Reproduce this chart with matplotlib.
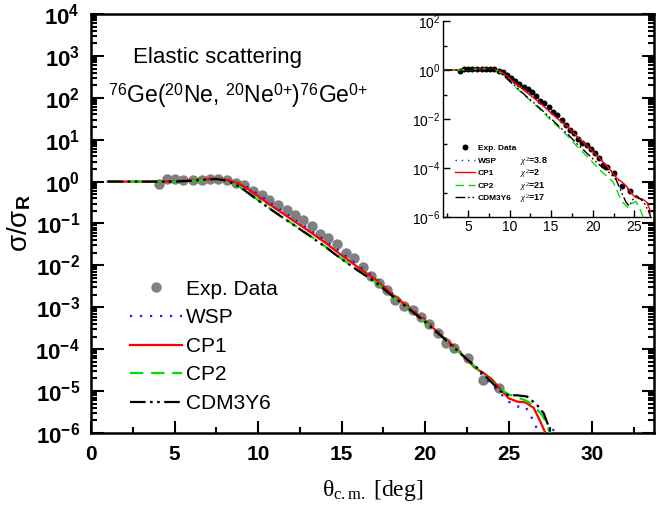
import numpy as np
import matplotlib
matplotlib.use("Agg")
import matplotlib.pyplot as plt
from matplotlib.ticker import LogLocator, FixedLocator, NullFormatter, MultipleLocator

# ---- experimental data (theta c.m. in deg, sigma/sigma_R) ----
theta_exp = [4.09, 4.53, 5.03, 5.53, 6.09, 6.63, 7.13, 7.62, 8.12, 8.68, 9.18, 9.72,
             10.22, 10.68, 11.17, 11.71, 12.22, 12.71, 13.21, 13.71, 14.17, 14.71,
             15.25, 15.75, 16.27, 16.77, 17.25, 17.69, 18.19, 18.74, 19.26, 19.76,
             20.26, 20.75, 21.26, 21.75, 22.55, 23.49, 24.45]
sig_exp = [0.87, 1.15, 1.15, 1.10, 1.10, 1.10, 1.15, 1.15, 1.10, 0.91, 0.83, 0.60,
           0.47, 0.36, 0.275, 0.21, 0.162, 0.123, 0.087, 0.056, 0.046, 0.032,
           0.020, 0.0148, 0.0091, 0.0056, 0.0037, 0.0026, 0.0015, 0.00107, 0.00087, 0.00058,
           0.00040, 0.00025, 1.38e-4, 1.05e-4, 6.2e-5, 1.8e-5, 1.2e-5]

# ---- model curves, main panel (log10 of sigma/sigma_R) ----
th_wsp = [1, 4, 5, 6, 7, 7.5, 8, 8.5, 9, 9.5, 10, 11, 12, 13, 14, 15, 16, 17, 18, 19, 20,
          21, 22, 22.5, 23, 23.5, 24, 24.5, 25, 25.5, 26, 26.3, 26.6, 26.8, 27.0, 27.4, 27.7, 28]
lg_wsp = [0, 0, 0.01, 0.03, 0.06, 0.07, 0.05, 0.01, -0.06, -0.16, -0.3, -0.58, -0.85, -1.12,
          -1.4, -1.7, -2.0, -2.3, -2.66, -2.98, -3.3, -3.66, -4.02, -4.24, -4.45, -4.65, -4.85,
          -5.05, -5.25, -5.37, -5.37, -5.57, -5.81, -6.0, -6.3, -6.2, -5.9, -6.3]

th_cp1 = [1, 4, 5, 6, 7, 7.5, 8, 8.5, 9, 9.5, 10, 11, 12, 13, 14, 15, 16, 17, 18, 19, 20,
          21, 22, 22.5, 23, 23.5, 24, 24.5, 25, 25.5, 26, 26.5, 26.9, 27.2, 27.4]
lg_cp1 = [0, 0, 0.01, 0.03, 0.06, 0.07, 0.05, 0.0, -0.08, -0.2, -0.35, -0.63, -0.9, -1.17,
          -1.45, -1.76, -2.05, -2.33, -2.68, -3.0, -3.32, -3.68, -4.04, -4.25, -4.45, -4.57,
          -4.72, -4.95, -5.17, -5.25, -5.27, -5.4, -5.73, -6.0, -6.3]

th_cp2 = [1, 4, 5, 6, 7, 7.5, 8, 8.5, 9, 9.5, 10, 11, 12, 13, 14, 15, 16, 17, 18, 19, 20,
          21, 22, 22.5, 23, 23.5, 24, 24.5, 25, 25.5, 26, 26.3, 26.9, 27.3, 27.5]
lg_cp2 = [0, 0, 0.0, 0.02, 0.05, 0.06, 0.03, -0.04, -0.15, -0.29, -0.44, -0.72, -0.99, -1.26,
          -1.54, -1.84, -2.12, -2.38, -2.72, -3.03, -3.35, -3.7, -4.06, -4.25, -4.42, -4.6,
          -4.78, -4.95, -5.08, -5.15, -5.22, -5.29, -5.52, -5.77, -6.05]

th_cdm = [1, 4, 5, 6, 7, 7.5, 8, 8.5, 9, 9.5, 10, 11, 12, 13, 14, 15, 16, 17, 18, 19, 20,
          21, 22, 22.5, 23, 23.5, 24, 24.5, 25, 25.5, 26.1, 26.7, 27.1, 27.4, 27.6]
lg_cdm = [0, 0, 0.0, 0.02, 0.05, 0.06, 0.03, -0.04, -0.15, -0.3, -0.45, -0.73, -1.0, -1.27,
          -1.55, -1.85, -2.13, -2.39, -2.72, -3.03, -3.35, -3.7, -4.06, -4.24, -4.4, -4.6,
          -4.8, -5.0, -5.1, -5.1, -5.13, -5.33, -5.53, -5.85, -6.1]

# ---- model curves, inset ----
th_in_wsp = [2, 4, 5, 6, 7, 7.5, 8, 8.5, 9, 9.5, 10, 11, 12, 13, 14, 15, 16, 17, 18, 19, 20,
             21, 22, 22.5, 23, 23.5, 24, 25, 25.8, 26.8, 27.2]
lg_in_wsp = [0, 0, 0.01, 0.03, 0.06, 0.07, 0.05, 0.01, -0.06, -0.16, -0.3, -0.58, -0.85, -1.12,
             -1.4, -1.7, -2.0, -2.3, -2.66, -2.98, -3.3, -3.66, -4.02, -4.24, -4.45, -4.65,
             -4.82, -5.1, -5.23, -5.5, -5.7]

th_in_cp2 = [2, 4, 6, 7, 7.5, 8, 8.5, 9, 10, 11, 12, 13, 14, 15, 16, 17, 18, 19, 20, 21, 22,
             22.5, 23.2, 23.6, 24.2, 24.7, 25.2, 25.8, 26.2]
lg_in_cp2 = [0, 0, 0.03, 0.05, 0.06, 0.03, -0.04, -0.13, -0.47, -0.79, -1.1, -1.4, -1.72, -2.06,
             -2.37, -2.7, -3.08, -3.42, -3.77, -4.13, -4.42, -4.6, -5.15, -5.4, -5.6, -5.45,
             -5.36, -5.77, -6.15]

th_in_cdm = [2, 4, 6, 7, 7.5, 8, 8.5, 9, 10, 11, 12, 13, 14, 15, 16, 17, 18, 19, 20, 21, 22,
             22.8, 23.4, 24.0, 24.4, 24.8, 25.2, 25.7, 26.2, 26.8, 27.1]
lg_in_cdm = [0, 0, 0.03, 0.05, 0.06, 0.03, -0.04, -0.13, -0.45, -0.76, -1.07, -1.36, -1.67,
             -1.99, -2.32, -2.62, -2.98, -3.3, -3.62, -3.93, -4.19, -4.47, -4.95, -5.4, -5.55,
             -5.3, -5.13, -5.25, -5.43, -5.84, -6.1]

model_names = ["WSP", "CP1", "CP2", "CDM3Y6"]
chi2_values = ["3.8", "2", "21", "17"]

main_yticks = [1e4, 1e3, 1e2, 1e1, 1e0, 1e-1, 1e-2, 1e-3, 1e-4, 1e-5, 1e-6]
main_ylabels = [r"$\mathbf{10^{4}}$", r"$\mathbf{10^{3}}$", r"$\mathbf{10^{2}}$",
                r"$\mathbf{10^{1}}$", r"$\mathbf{10^{0}}$", r"$\mathbf{10^{-1}}$",
                r"$\mathbf{10^{-2}}$", r"$\mathbf{10^{-3}}$", r"$\mathbf{10^{-4}}$",
                r"$\mathbf{10^{-5}}$", r"$\mathbf{10^{-6}}$"]
main_xticks = [0, 5, 10, 15, 20, 25, 30]
inset_yticks = [1e2, 1e0, 1e-2, 1e-4, 1e-6]
inset_ylabels = [r"$\mathsf{10^{2}}$", r"$\mathsf{10^{0}}$", r"$\mathsf{10^{-2}}$",
                 r"$\mathsf{10^{-4}}$", r"$\mathsf{10^{-6}}$"]
inset_xticks = [5, 10, 15, 20, 25]

plt.rcParams['font.family'] = ['Liberation Sans', 'DejaVu Sans']
plt.rcParams['mathtext.fontset'] = 'custom'
plt.rcParams['mathtext.rm'] = 'Liberation Serif'
plt.rcParams['mathtext.it'] = 'Liberation Serif:italic'
plt.rcParams['mathtext.sf'] = 'Liberation Sans'
plt.rcParams['mathtext.bf'] = 'Liberation Sans:bold'

# line styles for the four models
styles = {
    "WSP": dict(color='#1a1aff', linestyle=(0, (1, 3.5))),
    "CP1": dict(color='#ff0000', linestyle='-'),
    "CP2": dict(color='#00e000', linestyle=(0, (6, 3.5))),
    "CDM3Y6": dict(color='black', linestyle=(0, (7, 2, 1.2, 2, 1.2, 2))),
}

fig = plt.figure(figsize=(6.56, 5.18), dpi=100)
ax = fig.add_axes([91 / 656, 85 / 518, 563 / 656, 419 / 518])

ax.plot(theta_exp, sig_exp, 'o', color='#808080', markersize=7.5, markeredgewidth=0,
        label="Exp. Data", zorder=2)
curves = [(th_wsp, lg_wsp), (th_cp1, lg_cp1), (th_cp2, lg_cp2), (th_cdm, lg_cdm)]
for name, (th, lg) in zip(model_names, curves):
    ax.plot(th, 10.0 ** np.array(lg), lw=1.6, label=name, zorder=3, **styles[name])

ax.set_yscale('log')
ax.set_xlim(0, 33.7)
ax.set_ylim(1e-6, 1e4)
ax.set_yticks(main_yticks, main_ylabels, fontsize=16)
ax.yaxis.set_minor_locator(LogLocator(base=10, subs=np.arange(2, 10), numticks=100))
ax.yaxis.set_minor_formatter(NullFormatter())
ax.set_xticks(main_xticks, [str(t) for t in main_xticks], fontsize=15, fontweight='bold')
ax.xaxis.set_minor_locator(MultipleLocator(2.5))
ax.tick_params(which='both', direction='in', right=True, width=1.5)
ax.tick_params(which='major', length=9)
ax.tick_params(which='minor', length=4.5)
ax.tick_params(axis='x', pad=9)
ax.tick_params(axis='y', pad=8)
for sp in ax.spines.values():
    sp.set_linewidth(1.8)

ax.set_ylabel("σ/σ$_\\mathbf{R}$", fontsize=20)
ax.yaxis.set_label_coords(-0.103, 0.5)
ax.set_xlabel("θ$_{\\rm c.m.}$ [deg]", fontsize=17, family='Liberation Serif')
ax.xaxis.set_label_coords(0.5, -0.108)

ax.text(0.0746, 0.895, "Elastic scattering", transform=ax.transAxes, fontsize=16,
        va='center', ha='left')
ax.text(0.03, 0.806,
        r"$^{\mathsf{76}}$Ge($^{\mathsf{20}}$Ne, $^{\mathsf{20}}$Ne$^{\mathsf{0{+}}}$)"
        r"$^{\mathsf{76}}$Ge$^{\mathsf{0{+}}}$",
        transform=ax.transAxes, fontsize=16.5, va='center', ha='left')

leg = ax.legend(loc='upper left', bbox_to_anchor=(0.069, 0.366), frameon=False, fontsize=15,
                handlelength=2.5, handletextpad=0.2, labelspacing=0.46, borderpad=0,
                borderaxespad=0, numpoints=1)

# ---- inset ----
ax_in = fig.add_axes([443 / 656, 301 / 518, 208 / 656, 196 / 518])
ax_in.patch.set_alpha(0)
ax_in.plot(theta_exp, sig_exp, 'o', color='black', markersize=4.3, markeredgewidth=0,
           label="Exp. Data", zorder=2)
in_curves = [(th_in_wsp, lg_in_wsp), (th_cp1, lg_cp1), (th_in_cp2, lg_in_cp2),
             (th_in_cdm, lg_in_cdm)]
for name, (th, lg) in zip(model_names, in_curves):
    ax_in.plot(th, 10.0 ** np.array(lg), lw=1.0, label=name, zorder=3, **styles[name])

ax_in.set_yscale('log')
ax_in.set_xlim(2, 27)
ax_in.set_ylim(1e-6, 1e2)
ax_in.set_yticks(inset_yticks, inset_ylabels, fontsize=10)
ax_in.yaxis.set_minor_locator(FixedLocator([1e1, 1e-1, 1e-3, 1e-5]))
ax_in.yaxis.set_minor_formatter(NullFormatter())
ax_in.set_xticks(inset_xticks, [str(t) for t in inset_xticks], fontsize=10)
ax_in.xaxis.set_minor_locator(MultipleLocator(2.5))
ax_in.tick_params(which='both', direction='in', width=1.0, pad=2)
ax_in.tick_params(which='major', length=5)
ax_in.tick_params(which='minor', length=3)
ax_in.spines['top'].set_visible(False)
ax_in.spines['right'].set_visible(False)
for sp in ['left', 'bottom']:
    ax_in.spines[sp].set_linewidth(1.0)

leg_in = ax_in.legend(loc='upper left', bbox_to_anchor=(0.058, 0.37), frameon=False,
                      prop=dict(size=6, weight='bold'), handlelength=2.4, handletextpad=0.36,
                      labelspacing=0.55, borderpad=0, borderaxespad=0, numpoints=1)

# chi^2 column next to the inset legend labels
fig.canvas.draw()
inv = ax_in.transAxes.inverted()
for txt, chi in zip(leg_in.get_texts()[1:], chi2_values):
    bb = txt.get_window_extent()
    xr, yc = inv.transform((bb.x1, (bb.y0 + bb.y1) / 2))
    ax_in.text(max(0.37, xr + 0.02), yc, r"$\chi^2$=" + chi, transform=ax_in.transAxes,
               fontsize=6.5, fontweight='bold', va='center', ha='left')

fig.savefig("out.png", dpi=100)
